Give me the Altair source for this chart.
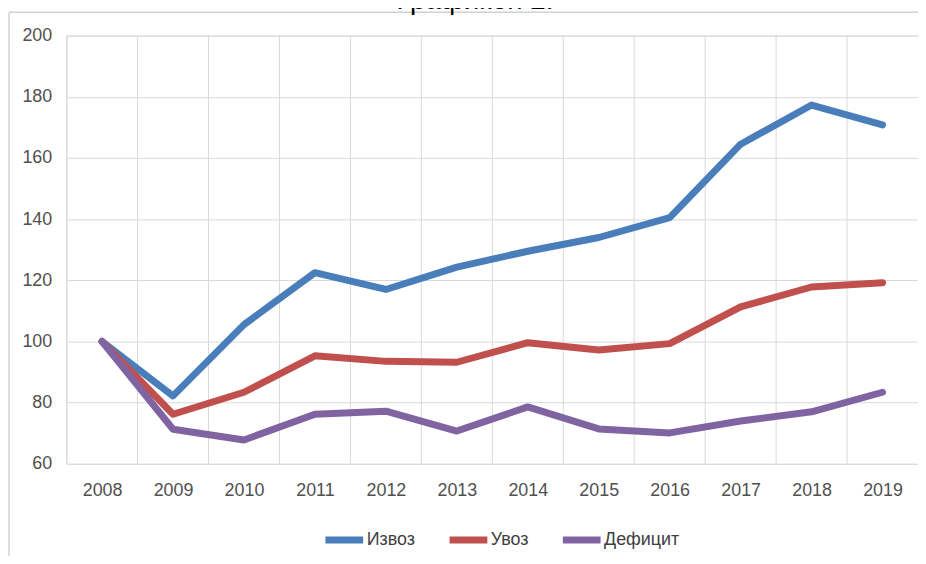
import altair as alt
import pandas as pd

years = list(range(2008, 2020))
izvoz = [100, 82.2, 105.5, 122.5, 117.0, 124.3, 129.5, 134.0, 140.5, 164.5, 177.3, 170.8]
uvoz = [100, 76.2, 83.4, 95.3, 93.5, 93.2, 99.6, 97.2, 99.3, 111.3, 117.8, 119.2]
deficit = [100, 71.3, 67.8, 76.2, 77.2, 70.7, 78.6, 71.4, 70.1, 74.0, 77.0, 83.4]
series = ["Извоз", "Увоз", "Дефицит"]
colors = ["#4A7EBB", "#C0504D", "#8064A2"]
y_ticks = [60, 80, 100, 120, 140, 160, 180, 200]
title_text = "Графикон 2."

rows = []
for name, vals in zip(series, [izvoz, uvoz, deficit]):
    for yr, v in zip(years, vals):
        rows.append({"year": yr, "value": v, "series": name})
df = pd.DataFrame(rows)
ydf = pd.DataFrame({"year": years})
one = pd.DataFrame({"t": [title_text]})

GRID = "#d9d9d9"
LABEL = "#505050"

x_scale = alt.Scale(domain=[2007.5, 2019.5], nice=False, zero=False)
x_axis = alt.Axis(values=years, format="d", grid=False, ticks=False, domain=False,
                  labelFont="Liberation Sans", labelFontSize=18, labelColor=LABEL,
                  labelPadding=18, title=None)

grid = alt.Chart(ydf).transform_calculate(b="datum.year - 0.5").mark_rule(
    color=GRID, strokeWidth=1
).encode(x=alt.X("b:Q", scale=x_scale, axis=x_axis))

lines = alt.Chart(df).mark_line(strokeWidth=7, strokeCap="round", strokeJoin="round").encode(
    x=alt.X("year:Q", scale=x_scale, axis=x_axis),
    y=alt.Y("value:Q", scale=alt.Scale(domain=[60, 200], nice=False, zero=False),
            axis=alt.Axis(values=y_ticks, grid=True, gridColor=GRID, ticks=False, domain=False,
                          labelFont="Liberation Sans", labelFontSize=18, labelColor=LABEL,
                          labelPadding=15, title=None)),
    color=alt.Color("series:N", sort=series,
                    scale=alt.Scale(domain=series, range=colors),
                    legend=alt.Legend(title=None, orient="none", direction="horizontal",
                                      legendX=257, legendY=485,
                                      symbolType="stroke", symbolSize=1444,
                                      symbolStrokeWidth=7, labelFontSize=18,
                                      labelFont="Liberation Sans", labelColor="#404040",
                                      labelOffset=0, columnPadding=20)),
    order=alt.Order("year:Q"),
)

frame_top = alt.Chart(one).mark_rule(color="#d2d2d2", strokeWidth=1.5).encode(
    x=alt.value(-58), x2=alt.value(860), y=alt.value(-23.5))
frame_left = alt.Chart(one).mark_rule(color="#d2d2d2", strokeWidth=1.5).encode(
    x=alt.value(-58), y=alt.value(-23.5), y2=alt.value(540))
title = alt.Chart(one).mark_text(fontSize=28, font="Liberation Sans", color="#000000",
                                 baseline="alphabetic", align="center").encode(
    x=alt.value(411), y=alt.value(-27), text="t:N")

chart = alt.layer(frame_top, frame_left, title, grid, lines).properties(
    width=857, height=431,
    autosize=alt.AutoSizeParams(type="none"),
    padding={"left": 59, "top": 26, "right": 0, "bottom": 91},
).configure_view(stroke=GRID, strokeWidth=1).configure(background="white")

chart.save("out.html", embed_options={"renderer": "svg", "actions": False})
